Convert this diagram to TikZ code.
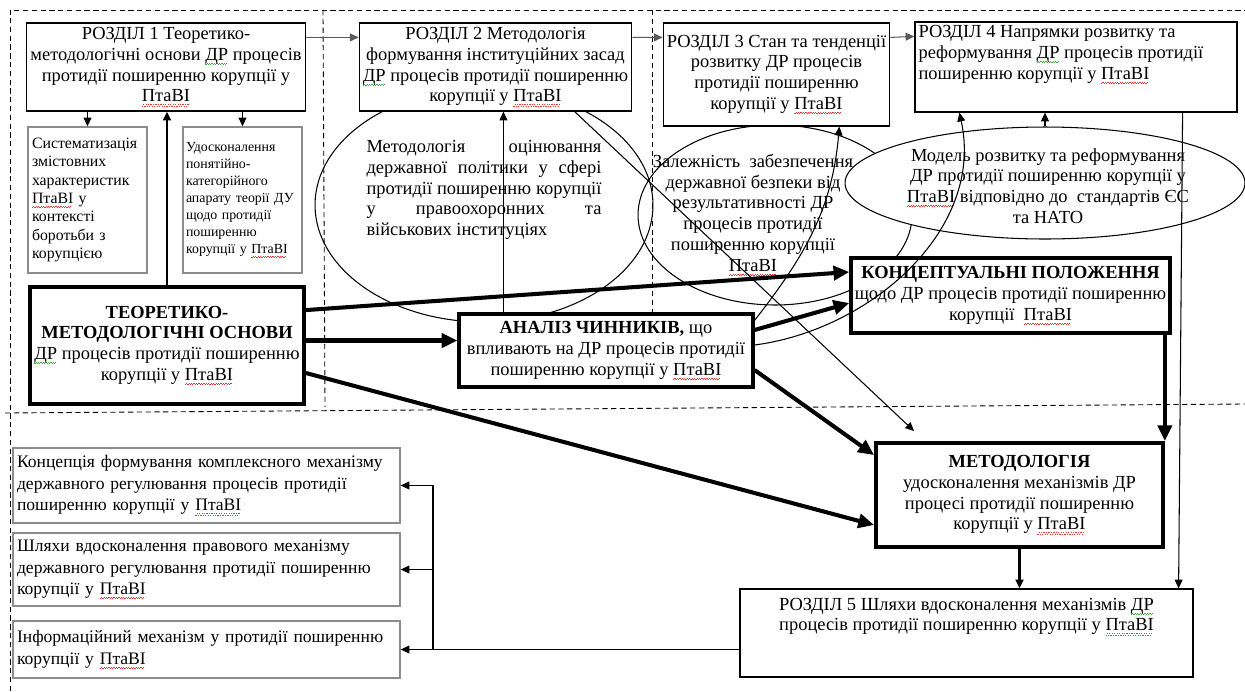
\documentclass[tikz,border=0pt]{standalone}
\usepackage{fontspec}
\setmainfont{Liberation Serif}
\usetikzlibrary{arrows.meta,shapes.geometric}

\definecolor{framegray}{RGB}{140,140,140}
\definecolor{linegray}{RGB}{90,90,90}
\definecolor{spellred}{RGB}{230,50,50}
\definecolor{spellgreen}{RGB}{60,170,60}

% spell-check wave under a word
\newsavebox{\wavebox}
\newcommand{\spell}[2]{\leavevmode\sbox{\wavebox}{#2}\rlap{\textcolor{#1}{\raisebox{-2.6pt}{\hbox to \wd\wavebox{\leaders\hbox{\rule{0.7pt}{0.45pt}\raisebox{0.7pt}{\rule{0.7pt}{0.45pt}}}\hfil}}}}\usebox{\wavebox}}
\newcommand{\ptv}{\spell{spellred}{ПтаВІ}}
\newcommand{\drg}{\spell{spellgreen}{ДР}}
\newcommand{\jline}[2]{\makebox[#1][s]{#2}}

\tikzset{
  txt/.style={font=\fontsize{10.5}{11.8}\selectfont},
  rbox/.style={txt, draw, line width=0.7pt, fill=white, align=center, inner sep=2pt},
  bigbox/.style={rbox, line width=2.2pt},
  subbox/.style={draw=framegray, line width=0.8pt, fill=white, align=left, inner sep=0.08cm},
  lbox/.style={subbox, font=\fontsize{10}{12.2}\selectfont, text width=7.58cm},
  oval/.style={ellipse, draw, line width=0.6pt, inner sep=0pt},
  sep/.style={dash pattern=on 3pt off 2pt, line width=0.5pt},
  arr/.style={-{Triangle[length=5pt,width=4.5pt]}, line width=0.6pt},
  boldarr/.style={-{Triangle[length=9pt,width=8pt]}, line width=2.3pt}
}

\begin{document}
\begin{tikzpicture}[x=0.02cm,y=-0.02cm]
\useasboundingbox (0,0) rectangle (1245,691);

% dashed separators
\draw[sep] (10,691) -- (10,10) -- (1245,10);
\draw[sep] (323,10) -- (325,407);
\draw[sep] (652,10) -- (652,312);
\draw[sep] (5,413) -- (1245,404);

% ovals
\node[oval, minimum width=6.76cm, minimum height=4.68cm] (e1) at (484,205) {};
\node[oval, minimum width=5.48cm, minimum height=3.6cm] (e2) at (775,215) {};
\node[oval, fill=white, minimum width=8cm, minimum height=2.24cm] (e3) at (1045,183) {};

\node[txt, align=left] (e1t) at (484,190)
  {\jline{4.7cm}{Методологія оцінювання}\\\jline{4.7cm}{державної політики у сфері}\\
   \jline{4.7cm}{протидії поширенню корупції}\\\jline{4.7cm}{у правоохоронних та}\\
   військових інституціях};
\node[txt, align=center] (e2t) at (753,215)
  {Залежність~ забезпечення\\державної безпеки від\\результативності ДР\\процесів протидії\\поширенню корупції\\\ptv};
\node[txt, align=center] (e3t) at (1048,186)
  {Модель розвитку та реформування\\ДР протидії поширенню корупції у\\\ptv{} відповідно до~ стандартів ЄС\\та НАТО};

% chapters
\node[rbox, minimum width=5.44cm, minimum height=1.76cm] (r1) at (166,67)
  {РОЗДІЛ 1 Теоретико-\\методологічні основи \drg{} процесів\\протидії поширенню корупції у\\\ptv};
\node[rbox, minimum width=5.38cm, minimum height=1.76cm] (r2) at (495.5,67)
  {РОЗДІЛ 2 Методологія\\формування інституційних засад\\\drg{} процесів протидії поширенню\\корупції у \ptv};
\node[rbox, minimum width=4.38cm, minimum height=2.06cm] (r3) at (776.5,74.5)
  {РОЗДІЛ 3 Стан та тенденції\\розвитку ДР процесів\\протидії поширенню\\корупції у \ptv};
\node[rbox] (r4) at (1076,67)
  {\parbox[c][1.66cm][t]{6.3cm}{РОЗДІЛ 4 Напрямки розвитку та\\реформування \drg{} процесів протидії\\поширенню корупції у \ptv}};
\node[rbox] (r5) at (966.5,633)
  {\parbox[c][1.62cm][t]{8.92cm}{\centering\vspace*{3pt}РОЗДІЛ 5 Шляхи вдосконалення механізмів \drg\\процесів протидії поширенню корупції у \ptv}};

% sub boxes
\node[subbox, text width=2.22cm, minimum height=2.92cm, font=\fontsize{9}{10.4}\selectfont] (sa) at (87.5,200)
  {Систематизація\\змістовних\\характеристик\\\ptv{} у\\контексті\\боротьби з\\корупцією};
\node[subbox, text width=2.26cm, minimum height=2.92cm, inner sep=0.06cm, font=\fontsize{7.9}{9.7}\selectfont] (sb) at (242.5,200)
  {Удосконалення\\понятійно-\\категорійного\\апарату теорії ДУ\\щодо протидії\\поширенню\\корупції у \ptv};

% main blocks
\node[bigbox, minimum width=5.48cm, minimum height=2.34cm] (th) at (167,345.5)
  {\textbf{ТЕОРЕТИКО-}\\\textbf{МЕТОДОЛОГІЧНІ ОСНОВИ}\\\drg{} процесів протидії поширенню\\корупції у \ptv};
\node[bigbox, line width=1.8pt, minimum width=5.88cm, minimum height=1.46cm] (an) at (606,350.5)
  {\textbf{АНАЛІЗ ЧИННИКІВ,} що\\впливають на ДР процесів протидії\\поширенню корупції у \ptv};
\node[bigbox, minimum width=6.3cm, minimum height=1.5cm] (co) at (1010.5,295.5)
  {\textbf{КОНЦЕПТУАЛЬНІ ПОЛОЖЕННЯ}\\щодо ДР процесів протидії поширенню\\корупції~~\ptv};
\node[bigbox, minimum width=5.74cm, minimum height=2.08cm] (me) at (1019.5,495)
  {\textbf{МЕТОДОЛОГІЯ}\\удосконалення механізмів ДР\\процесі протидії поширенню\\корупції у \ptv};

% lower left boxes
\node[lbox, minimum height=1.5cm] (l1) at (206.5,485.5)
  {Концепція формування комплексного механізму\\державного регулювання процесів протидії\\поширенню корупції у \ptv};
\node[lbox, minimum height=1.46cm] (l2) at (206.5,569.5)
  {\jline{7.58cm}{Шляхи вдосконалення правового механізму}\\\jline{7.58cm}{державного регулювання протидії поширенню}\\корупції у \ptv};
\node[lbox, minimum height=1.14cm] (l3) at (206.5,649.5)
  {\jline{7.58cm}{Інформаційний механізм у протидії поширенню}\\корупції у \ptv};

% thin connectors
\draw[arr, linegray] ([yshift=-0.3cm]r1.north east) -- ([yshift=-0.3cm]r2.north west);
\draw[arr, linegray] ([yshift=-0.3cm]r2.north east) -- ([yshift=-0.3cm]r3.north west);
\draw[arr, linegray] ([yshift=-0.3cm]r3.north east) -- ([yshift=-0.3cm]r4.north west);
\draw[arr] (sa.north |- r1.south) -- (sa.north);
\draw[arr] (sb.north |- r1.south) -- (sb.north);
\draw[arr, line width=1.2pt] (th.north) -- (th.north |- r1.south);
\draw[arr] ([xshift=0.92cm]an.north west) -- ([xshift=0.92cm]an.north west |- r2.south);
\draw[arr] ([xshift=4.32cm]r2.south west) -- ([xshift=0.8cm,yshift=0.2cm]me.north west);
\draw[arr] ([yshift=-0.16cm]an.north east) to[out=52,in=-95] ([xshift=-1.02cm]r3.south east);
\draw[arr] ([yshift=0.11cm]an.east) .. controls (870,330) and (985,230) .. ([xshift=0.9cm]r4.south west);
\draw[arr] (e3.north) -- (e3.north |- r4.south);
\draw[arr] ([xshift=-1.1cm]r4.south east) -- ([xshift=-0.3cm]r5.north east);
\draw[arr, line width=1.2pt] (me.south) -- (me.south |- r5.north);

% bold connectors
\draw[boldarr] ([yshift=-0.5cm]th.north east) -- ([yshift=0.47cm]co.west);
\draw[boldarr] ([yshift=0.2cm]an.west -| th.east) -- ([yshift=0.2cm]an.west);
\draw[boldarr] ([yshift=-0.55cm]th.east) -- ([yshift=-0.6cm]me.west);
\draw[boldarr] ([yshift=0.41cm]an.east) -- ([yshift=-0.15cm]co.west);
\draw[boldarr] ([yshift=-0.39cm]an.east) -- ([yshift=-0.28cm]me.north west);
\draw[boldarr] (me.north east |- co.south) -- (me.north east);

% chapter 5 outputs
\coordinate (br) at (433,647);
\draw[arr] (r5.west |- l3.east) -- (l3.east);
\draw[arr] (br |- l3.east) -- (br |- l1.east) -- (l1.east);
\draw[arr] (br |- l2.east) -- (l2.east);

\end{tikzpicture}
\end{document}
